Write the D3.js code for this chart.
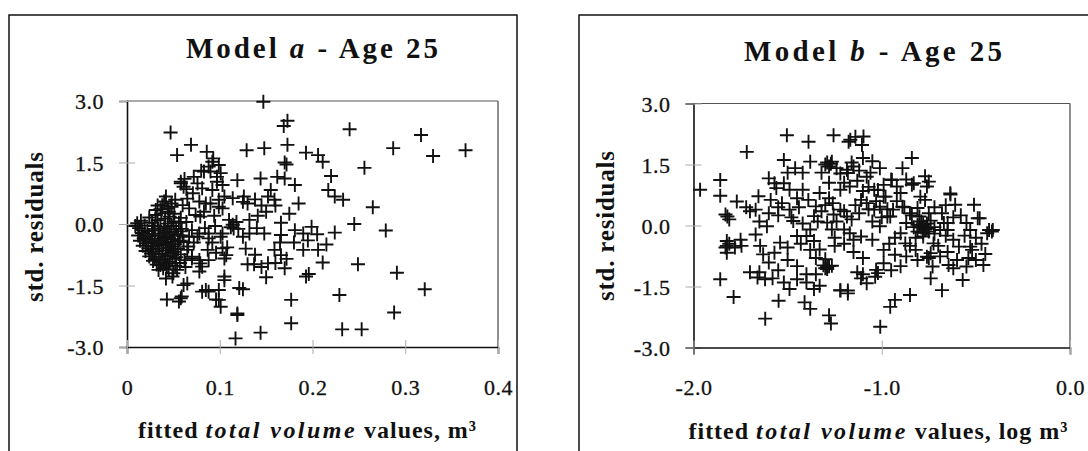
<!DOCTYPE html>
<html lang="en">
<head>
<meta charset="utf-8">
<title>Std. residuals - Model a / Model b - Age 25</title>
<script src="https://cdn.jsdelivr.net/npm/d3@7"></script>
<style>
  body { margin: 0; background: #fff; }
  text { font-family: "Liberation Serif", "Times New Roman", serif; fill: #111; }
</style>
</head>
<body>
<script>
// tick values
var yTicks = [3, 1.5, 0, -1.5, -3];
var xTicksA = [0, 0.1, 0.2, 0.3, 0.4];
var xTicksB = [-2, -1, 0];

// Model a: fitted total volume (m3) vs std. residual
var residualsA = [
  [0.147,2.98],[0.173,2.52],[0.169,2.39],[0.240,2.31],[0.317,2.17],[0.047,2.23],[0.069,1.93],[0.054,1.68],
  [0.086,1.76],[0.129,1.80],[0.148,1.85],[0.173,1.93],[0.193,1.74],[0.206,1.68],[0.211,1.52],[0.287,1.85],
  [0.330,1.66],[0.365,1.80],[0.256,1.37],[0.220,1.17],[0.170,1.50],[0.172,1.45],[0.217,0.83],[0.224,0.67],
  [0.233,0.59],[0.265,0.41],[0.245,0.0],[0.224,-0.21],[0.279,-0.16],[0.249,-0.98],[0.193,-1.28],[0.196,-1.22],
  [0.211,-0.94],[0.206,-0.63],[0.190,-0.63],[0.229,-1.73],[0.291,-1.19],[0.321,-1.59],[0.288,-2.16],[0.232,-2.57],
  [0.253,-2.57],[0.177,-1.85],[0.177,-2.42],[0.144,-2.65],[0.117,-2.79],[0.119,-2.22],[0.096,-1.84],[0.099,-1.61],
  [0.085,-1.61],[0.088,-1.65],[0.125,-1.59],[0.105,-1.37],[0.065,-1.45],[0.058,-1.81],[0.043,-1.84],[0.056,-1.89],
  [0.059,-1.77],[0.049,-1.28],[0.042,-1.33],[0.061,-1.49],[0.081,-1.65],[0.099,-1.85],[0.101,-2.02],[0.105,-1.28],
  [0.121,-1.56],[0.105,-0.84],[0.108,-0.57],[0.130,-0.98],[0.137,-0.98],[0.152,-0.96],[0.166,-0.76],[0.170,-1.08],
  [0.159,-0.63],[0.190,-0.23],[0.199,-0.07],[0.181,-0.15],[0.166,-0.27],[0.166,0.03],[0.148,-0.23],[0.159,0.59],
  [0.152,0.67],[0.155,0.83],[0.144,1.11],[0.162,1.15],[0.170,1.11],[0.181,0.95],[0.119,1.07],[0.097,1.03],
  [0.101,1.24],[0.092,1.52],[0.099,1.44],[0.083,1.28],[0.090,1.28],[0.097,1.15],[0.058,0.99],[0.058,1.03],
  [0.061,0.91],[0.076,0.99],[0.081,0.87],[0.103,0.95],[0.092,0.83],[0.130,0.50],[0.126,0.67],[0.114,-0.02],
  [0.118,0.05],[0.112,-0.08],[0.120,-0.12],[0.132,-0.23],[0.101,-0.31],[0.088,-0.23],[0.076,-0.31],[0.105,0.67],
  [0.090,0.50],[0.099,0.42],[0.079,0.18],[0.070,-0.15],[0.087,-0.63],[0.070,-0.80],[0.079,-0.96],[0.088,-0.88],
  [0.078,-1.16],[0.042,0.67],[0.052,0.59],[0.060,0.46],[0.038,0.46],[0.031,0.34],[0.045,0.30],[0.067,0.38],
  [0.074,0.22],[0.085,0.50],[0.099,0.59],[0.103,0.38],[0.114,0.63],[0.125,0.54],[0.110,0.10],[0.115,-0.11],
  [0.103,-0.23],[0.125,-0.31],[0.067,-0.31],[0.078,-0.23],[0.088,-0.35],[0.103,-0.59],[0.107,-0.76],[0.119,-2.18],
  [0.065,-0.63],[0.070,-0.84],[0.078,-0.88],[0.081,-1.04],[0.054,-1.12],[0.043,-1.04],[0.036,-1.00],[0.045,-1.10],
  [0.050,-1.20],[0.063,-1.05],[0.066,-0.55],[0.064,0.05],[0.033,0.45],[0.040,0.55],[0.048,0.42],[0.046,0.18],
  // dense cluster of small trees
  [0.024,0.16],[0.041,0.13],[0.015,0.08],[0.033,0.09],[0.050,0.06],[0.011,0.02],[0.027,0.03],[0.044,0.01],
  [0.056,0.03],[0.019,-0.04],[0.036,-0.06],[0.048,-0.05],[0.013,-0.10],[0.029,-0.12],[0.040,-0.11],[0.053,-0.13],
  [0.022,-0.17],[0.034,-0.16],[0.046,-0.19],[0.058,-0.18],[0.016,-0.22],[0.027,-0.24],[0.039,-0.23],[0.051,-0.25],
  [0.012,-0.28],[0.024,-0.30],[0.035,-0.29],[0.044,-0.31],[0.055,-0.28],[0.018,-0.35],[0.030,-0.36],[0.041,-0.34],
  [0.049,-0.37],[0.014,-0.41],[0.026,-0.42],[0.037,-0.40],[0.047,-0.43],[0.057,-0.41],[0.021,-0.47],[0.033,-0.48],
  [0.043,-0.46],[0.052,-0.49],[0.017,-0.53],[0.028,-0.54],[0.039,-0.52],[0.048,-0.55],[0.023,-0.59],[0.035,-0.60],
  [0.045,-0.58],[0.055,-0.61],[0.020,-0.66],[0.031,-0.67],[0.042,-0.65],[0.050,-0.68],[0.026,-0.72],[0.038,-0.73],
  [0.047,-0.71],[0.058,-0.74],[0.024,-0.79],[0.034,-0.80],[0.044,-0.78],[0.053,-0.81],[0.030,-0.86],[0.040,-0.87],
  [0.049,-0.85],[0.036,-0.93],[0.046,-0.92],[0.057,-0.95],[0.062,-0.88],[0.061,-0.44],[0.060,-0.28],[0.059,-0.12],
  [0.058,0.15],[0.031,0.22],[0.037,0.26],[0.051,0.25],[0.044,0.38],[0.009,-0.05],[0.016,-0.15],[0.020,-0.38],
  [0.028,-0.90],[0.032,-0.99],[0.041,-0.97],[0.027,-0.62],[0.035,-0.45],[0.042,-0.20],[0.030,-0.05],[0.052,-0.62],
  [0.036,0.36],[0.048,0.50],[0.039,-1.08],[0.052,-1.02],[0.034,-1.12],
  // mid range
  [0.065,0.62],[0.071,0.75],[0.078,0.55],[0.083,0.30],[0.094,0.20],[0.095,-0.05],[0.072,-0.45],[0.084,-0.10],
  [0.092,-0.45],[0.096,-0.70],[0.062,1.10],[0.072,1.15],[0.080,1.30],[0.088,1.40],[0.093,1.60],[0.064,0.85],
  [0.138,0.60],[0.145,0.45],[0.150,0.30],[0.141,0.20],[0.160,0.45],[0.165,-0.45],[0.172,-0.85],[0.160,-0.95],
  [0.145,-1.05],[0.150,-1.30],[0.138,-0.75],[0.128,-0.60],[0.132,0.10],[0.140,-0.10],[0.180,-0.45],[0.175,0.25],
  [0.185,0.50],[0.195,-0.40],[0.205,-0.25],[0.215,-0.50]
];

// Model b: fitted total volume (log m3) vs std. residual
var residualsB = [
  [-1.965,0.88],[-1.858,1.12],[-1.858,0.73],[-1.770,0.59],[-1.717,1.81],[-1.83,0.27],[-1.81,0.15],[-1.70,0.35],
  [-1.67,0.39],[-1.823,-0.38],[-1.823,-0.50],[-1.823,-0.67],[-1.83,-0.54],[-1.78,-0.54],[-1.745,-0.50],[-1.858,-1.32],
  [-1.787,-1.76],[-1.619,-2.29],[-1.548,-1.85],[-1.70,-1.15],[-1.66,-1.28],[-1.62,-1.32],[-1.646,-0.50],[-1.63,-0.71],
  [-1.60,-0.91],[-1.67,-0.22],[-1.61,-0.02],[-1.655,0.72],[-1.59,0.63],[-1.56,0.92],[-1.60,1.16],[-1.57,1.04],
  [-1.52,1.61],[-1.504,2.22],[-1.389,2.06],[-1.38,1.57],[-1.46,1.41],[-1.256,2.22],[-1.176,2.06],[-1.14,2.18],
  [-1.265,1.57],[-1.24,1.41],[-1.52,1.04],[-1.49,0.88],[-1.45,0.67],[-1.42,0.88],[-1.39,0.63],[-1.35,0.47],
  [-1.49,0.39],[-1.47,0.11],[-1.45,-0.26],[-1.54,-0.42],[-1.50,-0.54],[-1.57,-0.67],[-1.52,-1.40],[-1.49,-1.56],
  [-1.45,-1.32],[-1.40,-1.40],[-1.36,-1.56],[-1.33,-1.48],[-1.41,-1.89],[-1.38,-2.05],[-1.28,-2.21],[-1.27,-2.41],
  [-1.22,-1.60],[-1.18,-1.60],[-1.33,-0.59],[-1.30,-0.83],[-1.265,-0.99],[-1.29,-1.07],[-1.40,-0.26],[-1.36,-0.38],
  [-1.29,0.07],[-1.265,-0.10],[-1.36,0.23],[-1.32,0.35],[-1.256,0.27],[-1.20,0.35],[-1.33,0.80],[-1.28,0.67],
  [-1.22,0.88],[-1.17,0.96],[-1.22,1.28],[-1.185,1.37],[-1.167,2.11],[-1.097,2.19],[-1.105,1.98],[-1.10,1.66],
  [-1.05,1.58],[-1.01,1.41],[-1.15,1.45],[-1.18,1.29],[-0.84,1.66],[-0.89,1.41],[-0.95,1.13],[-0.84,1.00],
  [-0.77,1.21],[-0.76,0.96],[-0.795,0.71],[-0.77,0.63],[-0.81,0.43],[-0.635,0.76],[-0.61,0.51],[-0.51,0.51],
  [-0.48,0.18],[-0.415,-0.15],[-0.44,-0.19],[-0.55,0.06],[-0.53,-0.11],[-0.65,0.06],[-0.69,-0.11],[-0.62,-0.35],
  [-0.59,-0.52],[-0.52,-0.60],[-0.54,-0.80],[-0.46,-0.97],[-0.55,-1.01],[-0.62,-1.05],[-0.645,-0.97],[-0.74,-1.30],
  [-0.57,-1.34],[-0.68,-1.59],[-0.73,-1.01],[-0.85,-1.71],[-0.93,-1.83],[-0.955,-2.00],[-1.008,-2.49],[-0.80,-0.02],
  [-0.80,0.22],[-0.78,-0.27],[-0.87,0.06],[-0.90,-0.19],[-0.875,-0.44],[-0.94,0.39],[-0.97,0.22],[-1.01,-0.02],
  [-1.04,0.39],[-1.08,0.55],[-1.11,0.63],[-1.22,0.39],[-1.185,0.22],[-1.17,-0.19],[-1.11,-0.27],[-1.05,-0.35],
  [-0.99,-0.60],[-0.93,-0.72],[-0.87,-0.76],[-0.74,-0.68],[-0.69,-0.76],[-0.725,-0.44],[-1.035,-1.26],[-1.11,-1.30],
  [-1.08,-1.42],[-1.22,-1.59],[-1.18,-1.67],[-0.99,-0.93],[-1.03,-1.09],[-0.87,1.13],[-0.92,0.96],[-1.04,0.88],
  [-0.99,0.71],[-0.946,1.12],[-0.83,1.04],[-0.75,1.08],[-0.636,0.79],[-0.43,-0.11],[-0.41,-0.11],[-0.49,0.18],
  [-0.53,-0.52],[-0.81,-0.85],[-0.76,-0.77],[-1.02,-1.17],[-0.78,-0.18],[-0.83,-0.04],[-0.72,-0.04],[-0.67,0.06],
  [-0.65,-0.11],[-0.955,0.22],[-1.01,0.46],[-0.89,0.46],[-1.02,0.87],[-0.98,0.71],
  [-1.75,-0.35],[-1.72,0.45],[-1.65,0.10],[-1.55,0.25],[-1.53,0.55],[-1.48,0.20],[-1.44,0.45],[-1.42,0.05],
  [-1.38,-0.10],[-1.34,0.10],[-1.30,0.50],[-1.26,0.55],[-1.24,0.10],[-1.20,-0.10],[-1.16,0.15],[-1.14,0.50],
  [-1.12,0.30],[-1.10,0.85],[-1.07,0.95],[-1.13,1.10],[-1.20,1.05],[-1.28,1.05],[-1.32,1.30],[-1.30,1.50],
  [-1.28,1.45],[-1.42,1.30],[-1.50,1.30],[-1.55,0.45],[-1.60,0.30],[-1.43,-0.45],[-1.38,-0.60],[-1.35,-0.80],
  [-1.25,-0.50],[-1.20,-0.45],[-1.15,-0.65],[-1.10,-0.80],[-1.15,-0.35],[-1.25,-0.30],[-1.50,-0.85],[-1.45,-1.00],
  [-1.40,-1.20],[-1.55,-1.10],[-1.58,-1.30],[-1.65,-1.15],[-1.35,-1.20],[-1.30,-1.05],[-1.28,-1.00],[-1.10,-1.20],
  [-1.13,-1.15],[-0.95,-1.10],[-0.90,-1.00],[-0.85,-0.50],[-0.82,-0.60],[-0.75,-0.80],[-0.70,-0.50],[-0.66,-0.25],
  [-0.62,0.20],[-0.58,0.25],[-0.56,-0.25],[-0.50,-0.30],[-0.47,-0.45],[-0.45,-0.70],[-0.50,-0.85],[-0.65,-0.65],
  [-0.60,-0.85],[-0.68,0.30],[-0.72,0.45],[-0.66,0.50],[-0.75,0.30],[-0.84,0.25],[-0.88,0.45],[-0.92,0.60],
  [-0.97,0.40],[-1.00,0.20],[-1.05,0.10],[-0.93,-0.30],[-0.96,-0.45],[-0.82,-0.30],[-0.76,0.05],[-0.79,0.10],
  [-0.77,-0.10],[-0.74,0.12],[-0.81,-0.15],[-0.85,0.30],[-0.90,0.80],[-1.03,0.60],[-1.07,0.40],[-0.99,1.00],
  [-1.08,1.20],[-1.12,1.35],[-1.16,1.55],[-1.06,1.30],
  [-0.79,-0.05],[-0.76,-0.08],[-0.81,0.02],[-0.78,0.03],[-0.75,-0.15],[-0.72,-0.20],[-1.29,1.55],[-1.27,1.52],
  [-1.31,-0.98],[-1.29,-1.02],[-1.82,0.22],[-1.81,-0.45]
];

var W = 1088, H = 451;

var svg = d3.select("body").append("svg")
  .attr("width", W)
  .attr("height", H);

var panels = [
  {
    data: residualsA, xTicks: xTicksA, xDomain: [0, 0.4],
    box: {x: 9, y: 15, w: 508, h: 470},
    plot: {l: 127, r: 498, t: 101, b: 347},
    title: {cx: 312, y: 58, len: 252, letter: "a"},
    yTitle: {x: 43, cy: 227},
    xTitle: {cx: 307, y: 438, len: 338, unit: " values, m\u00B3"},
    xFmt: function(d) { return d === 0 ? "0" : d.toFixed(1); }
  },
  {
    data: residualsB, xTicks: xTicksB, xDomain: [-2, 0],
    box: {x: 579, y: 15, w: 540, h: 470},
    plot: {l: 693.5, r: 1070, t: 103.5, b: 347.5},
    title: {cx: 873, y: 61, len: 258, letter: "b"},
    yTitle: {x: 614, cy: 226},
    xTitle: {cx: 878, y: 439, len: 379, unit: " values, log m\u00B3"},
    xFmt: function(d) { return d.toFixed(1); }
  }
];

panels.forEach(function(p) {
  var g = svg.append("g");

  // outer frame
  g.append("rect")
    .attr("x", p.box.x).attr("y", p.box.y)
    .attr("width", p.box.w).attr("height", p.box.h)
    .attr("fill", "none").attr("stroke", "#111").attr("stroke-width", 1.5);

  var x = d3.scaleLinear().domain(p.xDomain).range([p.plot.l, p.plot.r]);
  var y = d3.scaleLinear().domain([-3, 3]).range([p.plot.b, p.plot.t]);

  // plot area frame: top/right lighter, left/bottom dark
  g.append("line").attr("x1", p.plot.l).attr("x2", p.plot.r).attr("y1", p.plot.t).attr("y2", p.plot.t)
    .attr("stroke", "#555").attr("stroke-width", 1.2);
  g.append("line").attr("x1", p.plot.r).attr("x2", p.plot.r).attr("y1", p.plot.t).attr("y2", p.plot.b)
    .attr("stroke", "#444").attr("stroke-width", 1.2);

  // y axis
  var yAxis = d3.axisLeft(y)
    .tickValues(yTicks)
    .tickSize(8)
    .tickPadding(15)
    .tickFormat(function(d) { return d.toFixed(1); });

  var gy = g.append("g")
    .attr("transform", "translate(" + p.plot.l + ",0)")
    .call(yAxis)
    .attr("font-family", null).attr("font-size", null);
  gy.select(".domain").attr("stroke", "#111").attr("stroke-width", 1.6);
  gy.selectAll(".tick line").attr("x1", 8).attr("stroke", "#aaa").attr("stroke-width", 1);
  gy.selectAll(".tick text")
    .attr("font-size", "22px")
    .attr("letter-spacing", "0.5px")
    .attr("dy", "0.35em")
    .attr("fill", "#111")
    .attr("stroke", "#111").attr("stroke-width", 0.3);

  // x axis
  var xAxis = d3.axisBottom(x)
    .tickValues(p.xTicks)
    .tickSize(7)
    .tickPadding(25)
    .tickFormat(p.xFmt);

  var gx = g.append("g")
    .attr("transform", "translate(0," + p.plot.b + ")")
    .call(xAxis)
    .attr("font-family", null).attr("font-size", null);
  gx.select(".domain").attr("stroke", "#111").attr("stroke-width", 1.6);
  gx.selectAll(".tick line").attr("y1", -7).attr("stroke", "#aaa").attr("stroke-width", 1);
  gx.selectAll(".tick text")
    .attr("font-size", "22px")
    .attr("letter-spacing", "0.5px")
    .attr("fill", "#111")
    .attr("stroke", "#111").attr("stroke-width", 0.3);

  // markers
  g.append("g").selectAll("path")
    .data(p.data)
    .enter()
    .append("path")
    .attr("d", "M-7,0H7M0,-7V7")
    .attr("transform", function(d) { return "translate(" + x(d[0]) + "," + y(d[1]) + ")"; })
    .attr("stroke", "#111")
    .attr("stroke-width", 1.9)
    .attr("fill", "none");

  // title
  var t = g.append("text")
    .attr("x", p.title.cx).attr("y", p.title.y)
    .attr("text-anchor", "middle")
    .attr("font-size", "29px")
    .attr("font-weight", "bold")
    .attr("textLength", p.title.len)
    .attr("lengthAdjust", "spacing");
  t.append("tspan").text("Model ");
  t.append("tspan").attr("font-style", "italic").text(p.title.letter);
  t.append("tspan").text("  - Age 25");

  // y title
  g.append("text")
    .attr("transform", "translate(" + p.yTitle.x + "," + p.yTitle.cy + ") rotate(-90)")
    .attr("text-anchor", "middle")
    .attr("font-size", "25px")
    .attr("font-weight", "bold")
    .attr("textLength", 150)
    .attr("lengthAdjust", "spacing")
    .text("std. residuals");

  // x title
  var xt = g.append("text")
    .attr("x", p.xTitle.cx).attr("y", p.xTitle.y)
    .attr("text-anchor", "middle")
    .attr("font-size", "24px")
    .attr("font-weight", "bold")
    .attr("textLength", p.xTitle.len)
    .attr("lengthAdjust", "spacing");
  xt.append("tspan").text("fitted ");
  xt.append("tspan").attr("font-style", "italic").attr("letter-spacing", "1.5px").text("total volume");
  xt.append("tspan").text(p.xTitle.unit);
});
</script>
</body>
</html>
